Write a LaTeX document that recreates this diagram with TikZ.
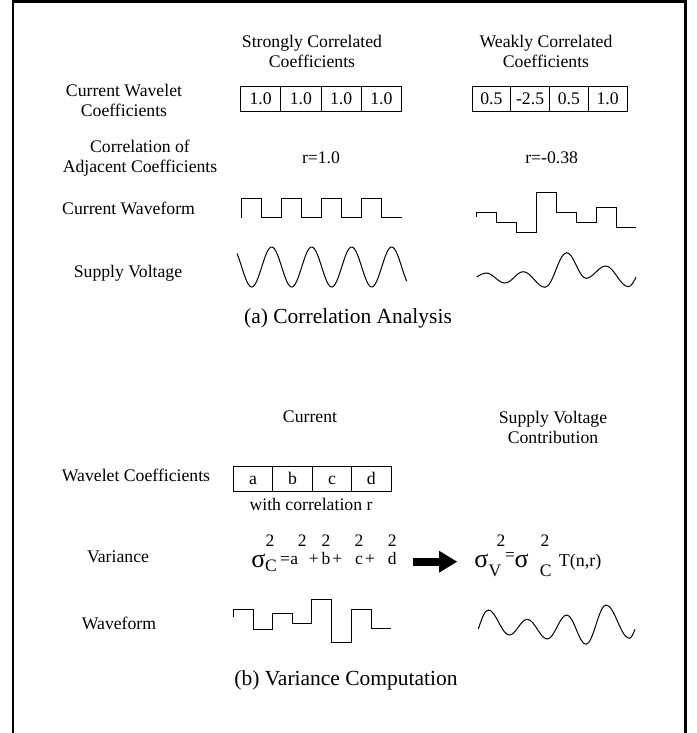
\documentclass[tikz,border=0pt]{standalone}
\usepackage{fontspec}
\setmainfont{Liberation Serif}
\usetikzlibrary{arrows.meta}

\begin{document}
\begin{tikzpicture}[x=1pt,y=-1pt,
  lbl/.style={font=\fontsize{17.7}{20}\selectfont, align=center, inner sep=0pt},
  caption/.style={font=\fontsize{21.5}{24}\selectfont, inner sep=0pt},
  cell/.style={draw, line width=0.8pt, minimum height=25pt, inner sep=0pt,
               text height=12pt, text depth=0pt,
               font=\fontsize{17.7}{20}\selectfont},
  fm/.style={font=\fontsize{17.5}{20}\selectfont, inner sep=0pt, anchor=base},
  sig/.style={font=\fontsize{26}{28}\selectfont, inner sep=0pt, anchor=base},
  wave/.style={line width=1pt, line join=miter},
  frame/.style={line width=2.5pt, line join=miter},
  bigarrow/.style={line width=8pt, -{Triangle[length=18pt, width=22pt, line width=0pt]}},
]
\useasboundingbox (0,0) rectangle (696,733);

% open frame: top edge and both sides
\draw[frame] (13,733) -- (13,1.3) -- (685.7,1.3) -- (685.7,733);

% ---------------- (a) correlation analysis ----------------
\node[lbl] (hdrS) at (312,51) {Strongly Correlated\\Coefficients};
\node[lbl] (hdrW) at (546,51) {Weakly Correlated\\Coefficients};

\node[lbl] (lblCoef) at (124,100) {Current Wavelet\\Coefficients};
\foreach \i/\x/\v in {1/260.6/1.0, 2/300.9/1.0, 3/341.1/1.0, 4/381.4/1.0}
  \node[cell, minimum width=40.25pt] (s\i) at (\x,98.5) {\v};
\foreach \i/\x/\v in {1/491.4/0.5, 2/530.1/-2.5, 3/568.9/0.5, 4/607.6/1.0}
  \node[cell, minimum width=38.75pt] (w\i) at (\x,98.5) {\v};

\node[lbl] (lblCorr) at (140,158) {Correlation of\\Adjacent Coefficients};
\node[lbl] (rS) at (321,158) {r=1.0};
\node[lbl] (rW) at (551.7,158) {r=-0.38};

\node[lbl, anchor=west] (lblWave) at (62,208) {Current Waveform};
\node[lbl] (lblSupply) at (128,273) {Supply Voltage};

% strongly correlated current: square wave
\draw[wave] (241.7,217.7) -- (241.7,198)
  -- (261.7,198) -- (261.7,217.7) -- (281.7,217.7) -- (281.7,198)
  -- (301.7,198) -- (301.7,217.7) -- (321.7,217.7) -- (321.7,198)
  -- (341.7,198) -- (341.7,217.7) -- (361.7,217.7) -- (361.7,198)
  -- (381.7,198) -- (381.7,217.7) -- (401.7,217.7);

% weakly correlated current: staircase
\draw[wave] (476,217) -- (476,212.7) -- (496,212.7) -- (496,222.7)
  -- (516.7,222.7) -- (516.7,232.7) -- (536.7,232.7) -- (536.7,192.3)
  -- (556.7,192.3) -- (556.7,212.7) -- (576.7,212.7) -- (576.7,222.7)
  -- (596.7,222.7) -- (596.7,207.7) -- (616.7,207.7) -- (616.7,227.7)
  -- (636,227.7);

% supply voltage, strong correlation (period 40)
\draw[wave] plot[domain=237:406.7, samples=150, smooth]
  (\x, {267-20*cos(9*(\x-271.7))});

% supply voltage, weak correlation
\draw[wave] (476.7,277) sin (486,273) cos (495.5,278) sin (505,283)
  cos (514.15,277.35) sin (523.3,271.7) cos (534.15,279.5) sin (545,287.3)
  cos (555.85,270) sin (566.7,252.7) cos (576.35,265.5) sin (586,278.3)
  cos (595.85,272.15) sin (605.7,266) cos (617,276.35) sin (628.3,286.7)
  cos (636,277.3);

\node[caption] (capA) at (348,318) {(a) Correlation Analysis};

% ---------------- (b) variance computation ----------------
\node[lbl] (hdrCur) at (310,417) {Current};
\node[lbl] (hdrSup) at (553,427) {Supply Voltage\\Contribution};

\node[lbl] (lblWC) at (136,475) {Wavelet Coefficients};
\foreach \i/\x/\v in {1/253.0/a, 2/292.5/b, 3/332.0/c, 4/371.3/d}
  \node[cell, minimum width=39.4pt, minimum height=25pt] (c\i) at (\x,478.5) {\v};
\node[lbl] (withr) at (311,504) {with correlation r};

\node[lbl] (lblVar) at (118,557) {Variance};

% sigma_C^2 = a^2 + b^2 + c^2 + d^2
\node[sig] (sgC) at (258.3,567) {σ};
\node[fm] (sgC2) at (270,546.7) {2};
\node[fm] (sgCs) at (271,571.7) {C};
\node[fm] (eq1) at (285,564) {=};
\node[fm] (ta) at (294.3,564) {a};
\node[fm] at (302.3,546.7) {2};
\node[fm] (p1) at (313.7,564) {+};
\node[fm] (tb) at (326,564) {b};
\node[fm] at (326,546.7) {2};
\node[fm] (p2) at (337.3,564) {+};
\node[fm] (tc) at (359,564) {c};
\node[fm] at (359,546.7) {2};
\node[fm] (p3) at (370,564) {+};
\node[fm] (td) at (392.3,564) {d};
\node[fm] at (392.3,546.7) {2};

\coordinate (arrS) at (413,561.7);
\coordinate (arrE) at (457,561.7);
\draw[bigarrow] (arrS) -- (arrE);

% sigma_V^2 = sigma_C^2 T(n,r)
\node[sig] (sgV) at (481.5,567) {σ};
\node[fm] (sgVs) at (495,576.7) {V};
\node[fm] (sgV2) at (501,546.7) {2};
\node[fm] (eq2) at (510,560) {=};
\node[sig] (sgC3) at (521.5,567) {σ};
\node[fm] (sgC32) at (545,546.7) {2};
\node[fm] (sgC3s) at (545.7,576.7) {C};
\node[font=\fontsize{18}{20}\selectfont, inner sep=0pt, anchor=base] (Tnr) at (580,566) {T(n,r)};

\node[lbl] (lblWf) at (119,623) {Waveform};

% current waveform built from a, b, c, d
\draw[wave] (233.3,617) -- (233.3,609.3) -- (253.3,609.3) -- (253.3,629)
  -- (272.7,629) -- (272.7,613.3) -- (292.7,613.3) -- (292.7,623.3)
  -- (311.7,623.3) -- (311.7,599.3) -- (331.7,599.3) -- (331.7,642.7)
  -- (351.7,642.7) -- (351.7,609.3) -- (371,609.3) -- (371,628.3)
  -- (390.7,628.3);

% resulting supply voltage contribution
\draw[wave] (478.3,629) sin (488.3,610) cos (498.8,622.5) sin (509.3,635)
  cos (518.3,627.15) sin (527.3,619.3) cos (537.3,629.15) sin (547.3,639)
  cos (557,627) sin (566.7,615) cos (576.35,629.65) sin (586,644.3)
  cos (596,624.65) sin (606,605) cos (617.65,621.65) sin (629.3,638.3)
  cos (635,629.3);

\node[caption] (capB) at (346,680) {(b) Variance Computation};
\end{tikzpicture}
\end{document}
